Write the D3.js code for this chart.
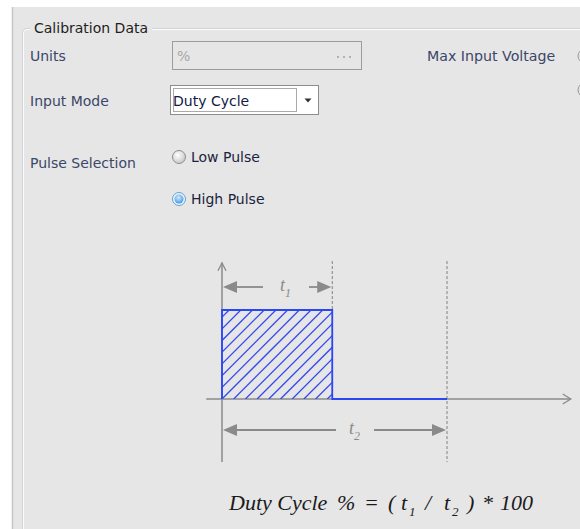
<!DOCTYPE html>
<html>
<head>
<meta charset="utf-8">
<script src="https://cdn.jsdelivr.net/npm/d3@7"></script>
<style>
  body { margin: 0; background: #fff; }
  svg { display: block; }
</style>
</head>
<body>
<script>
// form labels
var groupTitle = "Calibration Data";
var fieldLabels = ["Units", "Input Mode", "Pulse Selection"];
var unitsValue = "%";
var inputModes = ["Duty Cycle"];
var pulseOptions = ["Low Pulse", "High Pulse"];
var selectedPulse = "High Pulse";
var sideLabels = ["Max Input Voltage"];

// pulse waveform (time, level)
var pulseTimes = [0, 0, 49, 49, 100];
var pulseLevels = [0, 1, 1, 0, 0];
var t1 = 49;
var t2 = 100;

var width = 580;
var height = 529;
var ui = "'DejaVu Sans', Tahoma, sans-serif";
var serif = "'Liberation Serif', 'DejaVu Serif', serif";

var svg = d3.select("body").append("svg").attr("width", width).attr("height", height);
var defs = svg.append("defs");

// panel background
svg.append("rect").attr("x", 12).attr("y", 7).attr("width", width - 12).attr("height", height - 7).attr("fill", "#e6e6e6");
svg.append("line").attr("x1", 12.5).attr("x2", 12.5).attr("y1", 7).attr("y2", height).attr("stroke", "#c6c6c6").attr("stroke-width", 1.5);

// group box
svg.append("path")
  .attr("d", "M22.5," + height + " V33 Q22.5,28.5 27,28.5 H30 M152,28.5 H" + width)
  .attr("fill", "none").attr("stroke", "#d0d4d8");
svg.append("path")
  .attr("d", "M23.5," + height + " V33 Q23.5,29.5 27,29.5 H30 M152,29.5 H" + width)
  .attr("fill", "none").attr("stroke", "#fbfbfb");
svg.append("text").attr("x", 34).attr("y", 33).text(groupTitle)
  .attr("font-family", ui).attr("font-size", 14).attr("fill", "#1e1e1e");

// field labels
var labelY = [61, 106, 168];
svg.append("g").selectAll("text").data(fieldLabels).enter().append("text")
  .attr("x", 30).attr("y", function(d, i) { return labelY[i]; })
  .text(function(d) { return d; })
  .attr("font-family", ui).attr("font-size", 14).attr("fill", "#3b4668");

svg.append("text").attr("x", 427).attr("y", 61).text(sideLabels[0])
  .attr("font-family", ui).attr("font-size", 14.2).attr("fill", "#3b4668");
// partly hidden radios at the right edge
[56, 90].forEach(function(cy) {
  svg.append("circle").attr("cx", 585).attr("cy", cy).attr("r", 7).attr("fill", "#e2e2e2").attr("stroke", "#9a9a9a");
});

// units box (disabled)
svg.append("rect").attr("x", 172.5).attr("y", 41.5).attr("width", 189).attr("height", 28)
  .attr("fill", "#e6e6e6").attr("stroke", "#9c9c9c");
svg.append("text").attr("x", 177).attr("y", 61).text(unitsValue)
  .attr("font-family", ui).attr("font-size", 14).attr("fill", "#a8a8a8");
svg.append("g").selectAll("circle").data([0, 1, 2]).enter().append("circle")
  .attr("cx", function(d) { return 338 + d * 6; }).attr("cy", 57).attr("r", 1)
  .attr("fill", "#a0a0a0");

// input mode dropdown
svg.append("rect").attr("x", 170.5).attr("y", 85.5).attr("width", 148).attr("height", 29)
  .attr("fill", "#fff").attr("stroke", "#8c8c8c");
svg.append("rect").attr("x", 173.5).attr("y", 88.5).attr("width", 123).attr("height", 23)
  .attr("fill", "none").attr("stroke", "#555").attr("stroke-dasharray", "1,1");
svg.append("text").attr("x", 173).attr("y", 106).text(inputModes[0])
  .attr("font-family", ui).attr("font-size", 14).attr("fill", "#111a44");
svg.append("path").attr("d", "M304.5,98.5 h7 l-3.5,4 z").attr("fill", "#333");

// radio buttons
var g1 = defs.append("radialGradient").attr("id", "radOff").attr("cx", "40%").attr("cy", "35%").attr("r", "70%");
g1.append("stop").attr("offset", "0%").attr("stop-color", "#ffffff");
g1.append("stop").attr("offset", "100%").attr("stop-color", "#c4c4c4");
var g2 = defs.append("radialGradient").attr("id", "radOn").attr("cx", "45%").attr("cy", "35%").attr("r", "70%");
g2.append("stop").attr("offset", "0%").attr("stop-color", "#cfeaff");
g2.append("stop").attr("offset", "100%").attr("stop-color", "#3f93db");

var radioY = d3.scalePoint().domain(pulseOptions).range([157, 199]);
var radios = svg.append("g").selectAll("g").data(pulseOptions).enter().append("g");
radios.append("circle").attr("cx", 179).attr("cy", function(d) { return radioY(d); }).attr("r", 6.5)
  .attr("fill", function(d) { return d === selectedPulse ? "#e8f4ff" : "url(#radOff)"; })
  .attr("stroke", function(d) { return d === selectedPulse ? "#6a9fc8" : "#8e8e8e"; });
radios.filter(function(d) { return d === selectedPulse; }).append("circle")
  .attr("cx", 179).attr("cy", function(d) { return radioY(d); }).attr("r", 4.5).attr("fill", "url(#radOn)");
radios.append("text").attr("x", 191).attr("y", function(d) { return radioY(d) + 5; })
  .text(function(d) { return d; })
  .attr("font-family", ui).attr("font-size", 14).attr("fill", "#1c2340");

// waveform scales
var xScale = d3.scaleLinear().domain([0, t2]).range([222, 447]);
var yScale = d3.scaleLinear().domain([0, 1]).range([399, 310]);
var axisCol = "#8a8a8a";

// axes
svg.append("line").attr("x1", xScale(-7)).attr("x2", xScale(155)).attr("y1", yScale(0)).attr("y2", yScale(0))
  .attr("stroke", axisCol).attr("stroke-width", 1.5);
svg.append("path").attr("d", "M" + (xScale(155) - 8) + "," + (yScale(0) - 5) + " L" + xScale(155) + "," + yScale(0) + " L" + (xScale(155) - 8) + "," + (yScale(0) + 5))
  .attr("fill", "none").attr("stroke", axisCol).attr("stroke-width", 1.3);
svg.append("line").attr("x1", xScale(0)).attr("x2", xScale(0)).attr("y1", yScale(1.53)).attr("y2", 462)
  .attr("stroke", axisCol).attr("stroke-width", 1.5);
svg.append("path").attr("d", "M" + (xScale(0) - 4) + "," + (yScale(1.53) + 8) + " L" + xScale(0) + "," + yScale(1.53) + " L" + (xScale(0) + 4) + "," + (yScale(1.53) + 8))
  .attr("fill", "none").attr("stroke", axisCol).attr("stroke-width", 1.3);

// dashed guides
svg.append("line").attr("x1", xScale(t1)).attr("x2", xScale(t1)).attr("y1", yScale(1.55)).attr("y2", yScale(1))
  .attr("stroke", "#808080").attr("stroke-dasharray", "3,2");
svg.append("line").attr("x1", xScale(t2)).attr("x2", xScale(t2)).attr("y1", yScale(1.55)).attr("y2", 462)
  .attr("stroke", "#808080").attr("stroke-dasharray", "3,2");

// hatched pulse
defs.append("clipPath").attr("id", "pulseClip").append("rect")
  .attr("x", xScale(0)).attr("y", yScale(1)).attr("width", xScale(t1) - xScale(0)).attr("height", yScale(0) - yScale(1));
var hatch = d3.range(-8, 18).map(function(k) { return xScale(0) + k * 11.7; });
svg.append("g").attr("clip-path", "url(#pulseClip)").selectAll("line").data(hatch).enter().append("line")
  .attr("x1", function(d) { return d; }).attr("y1", yScale(0))
  .attr("x2", function(d) { return d + 89; }).attr("y2", yScale(1))
  .attr("stroke", "#3348f0").attr("stroke-width", 1.3);

var line = d3.line().x(function(d) { return xScale(d[0]); }).y(function(d) { return yScale(d[1]); });
svg.append("path").datum(d3.zip(pulseTimes, pulseLevels)).attr("d", line)
  .attr("fill", "none").attr("stroke", "#2a46f5").attr("stroke-width", 1.8);

// dimension arrows
function dimension(x0, x1, y, sub, gapL, gapR) {
  var mid = (gapL + gapR) / 2;
  svg.append("line").attr("x1", x0 + 10).attr("x2", gapL).attr("y1", y).attr("y2", y).attr("stroke", axisCol).attr("stroke-width", 1.8);
  svg.append("line").attr("x1", gapR).attr("x2", x1 - 10).attr("y1", y).attr("y2", y).attr("stroke", axisCol).attr("stroke-width", 1.8);
  svg.append("path").attr("d", "M" + (x0 + 1) + "," + y + " l14,-6 v12 z").attr("fill", axisCol);
  svg.append("path").attr("d", "M" + (x1 - 1) + "," + y + " l-14,-6 v12 z").attr("fill", axisCol);
  var t = svg.append("text").attr("x", mid - 6).attr("y", y + 4)
    .attr("font-family", serif).attr("font-style", "italic").attr("font-size", 18).attr("fill", "#8a8a8a");
  t.append("tspan").text("t");
  t.append("tspan").attr("dy", 6).attr("font-size", 12).text(sub);
}
dimension(xScale(0), xScale(t1), 287, "1", 263, 309);
dimension(xScale(0), xScale(t2), 430, "2", 336, 374);

// formula
var fPieces = [
  { s: "Duty Cycle", x: 229 }, { s: "%", x: 337 }, { s: "=", x: 364 }, { s: "(", x: 388 },
  { s: "t", x: 401 }, { s: "1", x: 409, sub: true }, { s: "/", x: 425 },
  { s: "t", x: 444 }, { s: "2", x: 452, sub: true }, { s: ")", x: 467 },
  { s: "*", x: 482 }, { s: "100", x: 500 }
];
svg.append("g").selectAll("text").data(fPieces).enter().append("text")
  .attr("x", function(d) { return d.x; })
  .attr("y", function(d) { return d.sub ? 516 : 510; })
  .attr("font-size", function(d) { return d.sub ? 13 : 22; })
  .attr("font-family", serif).attr("font-style", "italic").attr("fill", "#1a1a1a")
  .text(function(d) { return d.s; });
</script>
</body>
</html>
